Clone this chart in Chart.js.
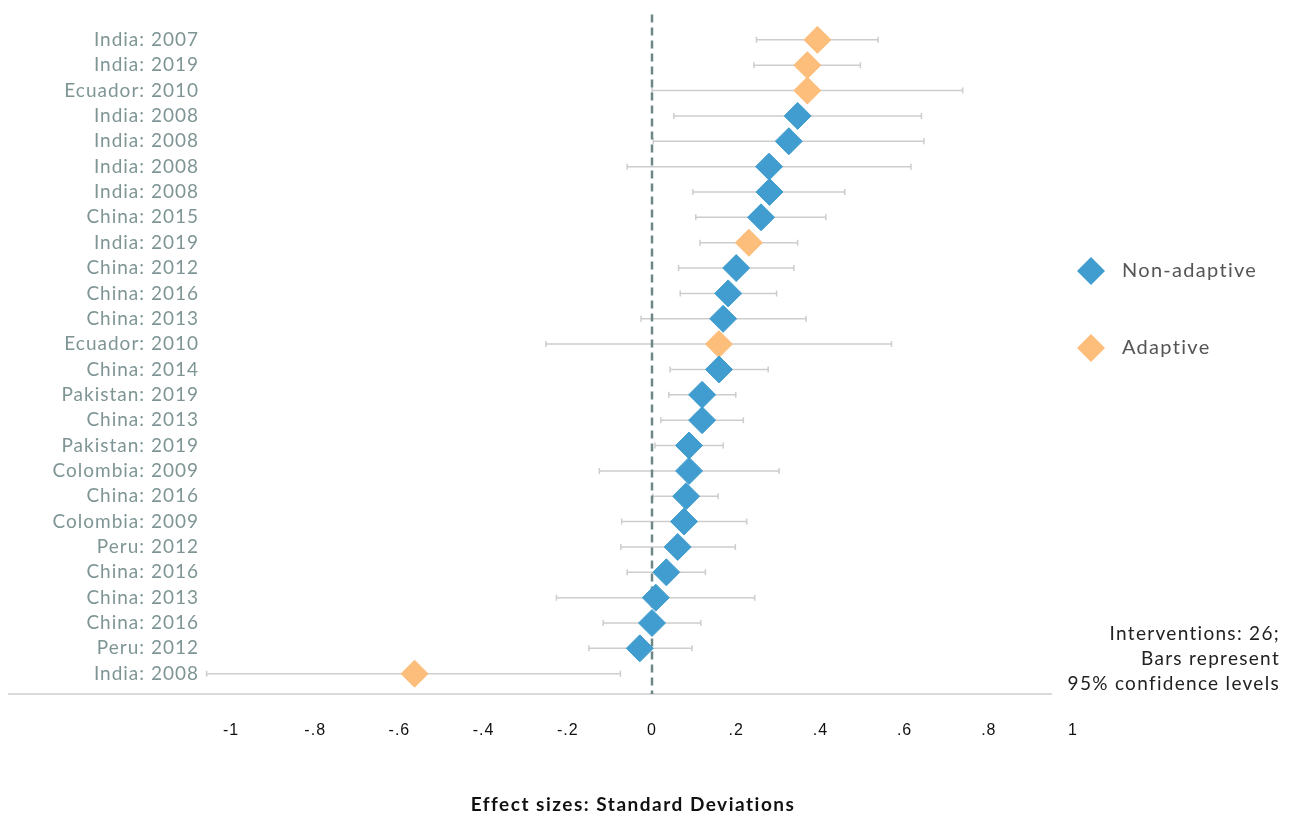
<!DOCTYPE html>
<html>
<head>
<meta charset="utf-8">
<title>Effect sizes</title>
<script src="https://cdn.jsdelivr.net/npm/chart.js"></script>
<style>
	body{margin:0;background:#fff;}
	.chart_box{position:relative;width:1295px;height:819px;}
</style>
</head>
<body>
<div class="chart_box"><canvas id="effect_chart"></canvas></div>
<script>
// one row per intervention, top to bottom
const studies = [
	'India: 2007','India: 2019','Ecuador: 2010','India: 2008','India: 2008','India: 2008','India: 2008',
	'China: 2015','India: 2019','China: 2012','China: 2016','China: 2013','Ecuador: 2010','China: 2014',
	'Pakistan: 2019','China: 2013','Pakistan: 2019','Colombia: 2009','China: 2016','Colombia: 2009',
	'Peru: 2012','China: 2016','China: 2013','China: 2016','Peru: 2012','India: 2008'
];
const effects = [
	0.393,0.369,0.369,0.346,0.325,0.278,0.279,
	0.259,0.230,0.200,0.181,0.169,0.159,0.159,
	0.119,0.119,0.088,0.088,0.081,0.076,
	0.061,0.034,0.009,0.000,-0.029,-0.564
];
const ci_low = [
	0.248,0.242,0.000,0.052,0.003,-0.059,0.097,
	0.104,0.114,0.063,0.067,-0.026,-0.252,0.043,
	0.040,0.021,0.007,-0.125,0.002,-0.072,
	-0.074,-0.059,-0.227,-0.116,-0.150,-1.058
];
const ci_high = [
	0.537,0.495,0.738,0.640,0.646,0.615,0.458,
	0.413,0.346,0.337,0.296,0.366,0.569,0.276,
	0.199,0.217,0.169,0.302,0.157,0.225,
	0.198,0.127,0.244,0.116,0.095,-0.075
];
// 1 = adaptive, 0 = non-adaptive
const adaptive = [
	1,1,1,0,0,0,0,
	0,1,0,0,0,1,0,
	0,0,0,0,0,0,
	0,0,0,0,0,1
];
const x_ticks = [-1,-0.8,-0.6,-0.4,-0.2,0,0.2,0.4,0.6,0.8,1];
const x_tick_labels = ['-1','-.8','-.6','-.4','-.2','0','.2','.4','.6','.8','1'];
const series_names = ['Non-adaptive','Adaptive'];
const notes = ['Interventions: 26;','Bars represent','95% confidence levels'];
const axis_title = 'Effect sizes: Standard Deviations';

const blue = '#419dcf';
const orange = '#fdbd7b';
const label_font = 'Lato';

function points(flag){
	let out = [];
	for(let i = 0; i < effects.length; i++){
		if(adaptive[i] == flag) out.push({x:effects[i], y:i + 1});
	}
	return out;
}

function diamond(ctx, x, y, r, color){
	ctx.fillStyle = color;
	ctx.beginPath();
	ctx.moveTo(x, y - r);
	ctx.lineTo(x + r, y);
	ctx.lineTo(x, y + r);
	ctx.lineTo(x - r, y);
	ctx.closePath();
	ctx.fill();
}

const forestExtras = {
	id:'forestExtras',
	beforeDraw(chart){
		// the original lettering is wider than Lato
		chart.ctx.letterSpacing = '1px';
	},
	beforeDatasetsDraw(chart){
		const ctx = chart.ctx;
		const xs = chart.scales.x;
		const ys = chart.scales.y;
		const area = chart.chartArea;
		ctx.save();
		// confidence interval bars
		ctx.strokeStyle = '#cdcdcd';
		ctx.lineWidth = 1.5;
		for(let i = 0; i < effects.length; i++){
			let py = ys.getPixelForValue(i + 1);
			let x1 = xs.getPixelForValue(ci_low[i]);
			let x2 = xs.getPixelForValue(ci_high[i]);
			ctx.beginPath();
			ctx.moveTo(x1, py); ctx.lineTo(x2, py);
			ctx.moveTo(x1, py - 3); ctx.lineTo(x1, py + 3);
			ctx.moveTo(x2, py - 3); ctx.lineTo(x2, py + 3);
			ctx.stroke();
		}
		// base line
		ctx.beginPath();
		ctx.moveTo(8, area.bottom);
		ctx.lineTo(xs.getPixelForValue(0.95), area.bottom);
		ctx.stroke();
		// zero line
		let x0 = xs.getPixelForValue(0);
		ctx.strokeStyle = '#6e8786';
		ctx.lineWidth = 2.5;
		ctx.setLineDash([8,5]);
		ctx.beginPath();
		ctx.moveTo(x0, area.top);
		ctx.lineTo(x0, area.bottom);
		ctx.stroke();
		ctx.restore();
	},
	afterDraw(chart){
		const ctx = chart.ctx;
		ctx.save();
		ctx.textBaseline = 'middle';
		// legend
		const colors = [blue, orange];
		const legend_y = [271, 348];
		ctx.font = '20px ' + label_font;
		ctx.letterSpacing = '1.3px';
		for(let i = 0; i < series_names.length; i++){
			diamond(ctx, 1091, legend_y[i], 14, colors[i]);
			ctx.fillStyle = '#555';
			ctx.textAlign = 'left';
			ctx.fillText(series_names[i], 1122, legend_y[i]);
		}
		// note
		ctx.font = '19px ' + label_font;
		ctx.letterSpacing = '1.3px';
		ctx.fillStyle = '#222';
		ctx.textAlign = 'right';
		for(let i = 0; i < notes.length; i++){
			ctx.fillText(notes[i], 1280, 634 + i * 25);
		}
		// axis title
		ctx.font = 'bold 19px ' + label_font;
		ctx.letterSpacing = '1.5px';
		ctx.fillStyle = '#111';
		ctx.textAlign = 'center';
		ctx.fillText(axis_title, 633, 805);
		ctx.restore();
	}
};

const effect_chart = document.querySelector("#effect_chart").getContext("2d");

let chart = new Chart(effect_chart, {
	type:'scatter',
	data:{
		datasets:[{
			label:series_names[0],
			data:points(0),
			backgroundColor:blue,
			borderColor:blue,
		},{
			label:series_names[1],
			data:points(1),
			backgroundColor:orange,
			borderColor:orange,
		}]
	},
	options:{
		responsive:true,
		maintainAspectRatio:false,
		animation:false,
		events:[],
		layout:{
			padding:{left:0, right:222, top:13, bottom:0}
		},
		elements:{
			point:{
				pointStyle:'rectRot',
				radius:13.5,
				borderWidth:1,
			}
		},
		plugins:{
			legend:{display:false},
			tooltip:{enabled:false},
		},
		scales:{
			x:{
				min:-1,
				max:1,
				afterBuildTicks:function(scale){
					scale.ticks = x_ticks.map(function(v){ return {value:v}; });
				},
				afterFit:function(scale){
					scale.height = 125;
					scale.paddingLeft = 0;
					scale.paddingRight = 0;
				},
				ticks:{
					callback:function(value, index){ return x_tick_labels[index]; },
					font:{family:'Liberation Sans', size:16},
					color:'#111',
					padding:27,
					maxRotation:0,
					autoSkip:false,
				},
				grid:{display:false, drawTicks:false},
				border:{display:false},
			},
			y:{
				min:0,
				max:26.8,
				reverse:true,
				afterBuildTicks:function(scale){
					scale.ticks = studies.map(function(s, i){ return {value:i + 1}; });
				},
				afterFit:function(scale){
					scale.width = 231;
					scale.paddingTop = 0;
					scale.paddingBottom = 0;
				},
				ticks:{
					callback:function(value){ return studies[value - 1]; },
					font:{family:label_font, size:19},
					color:'#7f9595',
					padding:32,
					autoSkip:false,
				},
				grid:{display:false, drawTicks:false},
				border:{display:false},
			},
		},
	},
	plugins:[forestExtras],
});
</script>
</body>
</html>
